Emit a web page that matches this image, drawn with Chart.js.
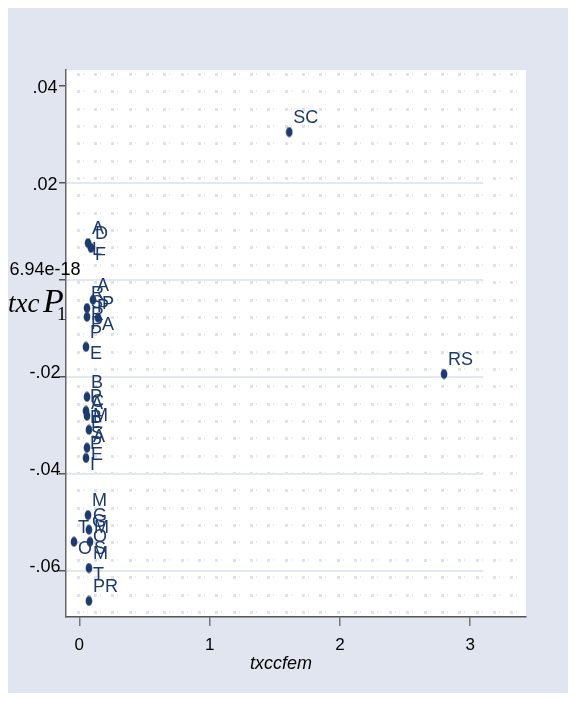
<!DOCTYPE html>
<html>
<head>
<meta charset="utf-8">
<script src="https://cdn.jsdelivr.net/npm/chart.js@4.4.1/dist/chart.umd.min.js"></script>
<style>
  html, body { margin: 0; padding: 0; background: #ffffff; }
  #wrap { width: 576px; height: 701px; position: relative; }
  canvas { display: block; }
</style>
</head>
<body>
<div id="wrap"><canvas id="c" width="576" height="701"></canvas></div>
<script>
// State codes and their values
const states  = ['SC', 'RS', 'AL', 'DF', 'AP', 'RR', 'SP', 'PA', 'PE', 'BA', 'PB',
                 'CE', 'MA', 'SE', 'PI', 'MG', 'GO', 'TO', 'MS', 'MT', 'PR'];
const txccfem = [1.611, 2.799, 0.067, 0.090, 0.105, 0.059, 0.059, 0.144, 0.051, 0.059, 0.051,
                 0.059, 0.074, 0.059, 0.051, 0.067, 0.074, -0.041, 0.082, 0.074, 0.074];
const txcP1   = [0.0305, -0.0194, 0.0076, 0.0066, -0.0041, -0.0058, -0.0076, -0.0078, -0.0138, -0.0241, -0.0270,
                 -0.0280, -0.0309, -0.0346, -0.0367, -0.0485, -0.0515, -0.0540, -0.0540, -0.0594, -0.0662];

// Axis ticks
const xTickValues = [0, 1, 2, 3];
const xTickLabels = ['0', '1', '2', '3'];
const yTickValues = [0.04, 0.02, 0, -0.02, -0.04, -0.06];
const yTickLabels = ['.04', '.02', '6.94e-18', '-.02', '-.04', '-.06'];
const yGridValues = [0.02, 0, -0.02, -0.04, -0.06];

// Labels in the crowded column near zero are wrapped one letter per line
const wrappedLabels = new Set(['AL', 'DF', 'AP', 'RR', 'SP', 'PA', 'PE', 'BA', 'PB',
                               'CE', 'MA', 'SE', 'PI', 'MG', 'GO', 'TO', 'MS', 'MT']);

const NAVY = '#1c3b6c';
const BG = '#e0e5ef';
const SANS = '"Liberation Sans", Arial, Helvetica, sans-serif';
const SERIF = '"Liberation Serif", "Times New Roman", serif';

// Filled ellipse marker
const marker = document.createElement('canvas');
marker.width = 8; marker.height = 11;
(function () {
  const g = marker.getContext('2d');
  g.fillStyle = NAVY;
  g.beginPath();
  g.ellipse(4, 5.5, 3.3, 5.0, 0, 0, Math.PI * 2);
  g.fill();
})();

const backdrop = {
  id: 'backdrop',
  beforeDraw(chart) {
    const { ctx, chartArea: a, width, height } = chart;
    ctx.save();
    ctx.fillStyle = '#ffffff';
    ctx.fillRect(0, 0, width, height);
    ctx.fillStyle = BG;
    ctx.fillRect(8, 8, width - 16, height - 16);
    ctx.fillStyle = '#ffffff';
    ctx.fillRect(a.left, a.top, a.right - a.left, a.bottom - a.top);
    // faint dotted texture of the plot region
    const step = 17.35;
    for (let y = a.top + 3; y < a.bottom - 1; y += step) {
      for (let x = a.left + 10.5; x < a.right - 1; x += step) {
        ctx.fillStyle = '#dde2ed';
        ctx.fillRect(Math.round(x), Math.round(y), 3, 3);
        ctx.fillStyle = '#e6e9f2';
        ctx.fillRect(Math.round(x) + 6, Math.round(y), 1, 2);
      }
    }
    // horizontal grid lines, spanning the data range up to x = 3.1
    const xs = chart.scales.x, ys = chart.scales.y;
    ctx.strokeStyle = '#e3e7f0';
    ctx.lineWidth = 2;
    const gx1 = xs.getPixelForValue(3.1);
    yGridValues.forEach(v => {
      const py = Math.round(ys.getPixelForValue(v));
      ctx.beginPath();
      ctx.moveTo(a.left, py);
      ctx.lineTo(gx1, py);
      ctx.stroke();
    });
    ctx.restore();
  }
};

const pointLabels = {
  id: 'pointLabels',
  afterDatasetsDraw(chart) {
    const { ctx } = chart;
    const meta = chart.getDatasetMeta(0);
    ctx.save();
    ctx.fillStyle = NAVY;
    ctx.font = '18px ' + SANS;
    ctx.textAlign = 'left';
    ctx.textBaseline = 'middle';
    meta.data.forEach((pt, i) => {
      const name = states[i];
      const lx = pt.x + 4, ly = pt.y - 14;
      if (wrappedLabels.has(name)) {
        name.split('').forEach((ch, k) => ctx.fillText(ch, lx, ly + k * 21));
      } else {
        ctx.fillText(name, lx, ly);
      }
    });
    ctx.restore();
  }
};

const axisText = {
  id: 'axisText',
  afterDraw(chart) {
    const { ctx, chartArea: a } = chart;
    const ys = chart.scales.y;
    ctx.save();
    // y tick labels, centred in the left margin
    ctx.fillStyle = '#000000';
    ctx.font = '18px ' + SANS;
    ctx.textAlign = 'center';
    ctx.textBaseline = 'alphabetic';
    yTickValues.forEach((v, i) => {
      const py = ys.getPixelForValue(v);
      const lab = yTickLabels[i];
      let base = py + 7;
      if (v === 0) base = py - 5;
      else if (v < 0) base = py + 1;
      ctx.fillText(lab, 45, base);
    });
    // y axis title: txc P with subscript 1
    ctx.textAlign = 'left';
    ctx.font = 'italic 27px ' + SERIF;
    ctx.fillText('txc', 8, 312);
    ctx.font = 'italic 34px ' + SERIF;
    ctx.fillText('P', 43, 312);
    ctx.font = '19px ' + SERIF;
    ctx.fillText('1', 57, 320);
    // x axis title
    ctx.font = 'italic 18px ' + SANS;
    ctx.textAlign = 'center';
    ctx.textBaseline = 'middle';
    ctx.fillText('txccfem', a.left + 215, 664);
    ctx.restore();
  }
};

new Chart(document.getElementById('c'), {
  type: 'scatter',
  data: {
    datasets: [{
      data: states.map((s, i) => ({ x: txccfem[i], y: txcP1[i] })),
      pointStyle: marker,
      pointRadius: 5,
      pointHoverRadius: 5
    }]
  },
  options: {
    responsive: false,
    animation: false,
    events: [],
    layout: { padding: { left: 0, right: 50, top: 70, bottom: 0 } },
    plugins: { legend: { display: false }, tooltip: { enabled: false }, title: { display: false } },
    scales: {
      x: {
        type: 'linear',
        min: -0.102,
        max: 3.428,
        afterBuildTicks(scale) { scale.ticks = xTickValues.map(v => ({ value: v })); },
        afterFit(scale) { scale.height = 84; },
        ticks: {
          callback(value) { const k = xTickValues.indexOf(value); return k >= 0 ? xTickLabels[k] : ''; },
          color: '#000000',
          font: { family: SANS, size: 17 },
          padding: 9,
          maxRotation: 0,
          autoSkip: false
        },
        grid: { drawOnChartArea: false, drawTicks: true, tickLength: 9, color: '#777777', lineWidth: 1.5 },
        border: { display: true, color: '#555555', width: 1.5 }
      },
      y: {
        type: 'linear',
        min: -0.0695,
        max: 0.0433,
        afterBuildTicks(scale) { scale.ticks = yTickValues.map(v => ({ value: v })); },
        afterFit(scale) { scale.width = 66; },
        ticks: { display: false },
        grid: { drawOnChartArea: false, drawTicks: true, tickLength: 7, color: '#555555', lineWidth: 1.5 },
        border: { display: true, color: '#666666', width: 1.5 }
      }
    }
  },
  plugins: [backdrop, pointLabels, axisText]
});
</script>
</body>
</html>
